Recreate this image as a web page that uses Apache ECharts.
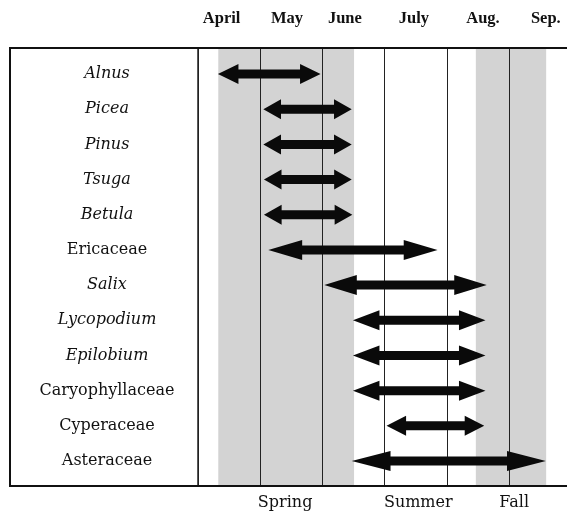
<!DOCTYPE html>
<html>
<head>
<meta charset="utf-8">
<script src="https://cdn.jsdelivr.net/npm/echarts@6/dist/echarts.min.js"></script>
<style>html,body{margin:0;padding:0;background:#fff;}#c{width:567px;height:517px;}</style>
</head>
<body>
<div id="c"></div>
<script>
// Data (x in months since 1 April)
const taxa = ['Alnus','Picea','Pinus','Tsuga','Betula','Ericaceae','Salix','Lycopodium','Epilobium','Caryophyllaceae','Cyperaceae','Asteraceae'];
const italicTaxa = ['Alnus','Picea','Pinus','Tsuga','Betula','Salix','Lycopodium','Epilobium'];
const startMonth = [0.32, 1.05, 1.05, 1.06, 1.06, 1.13, 2.03, 2.49, 2.49, 2.49, 3.03, 2.47];
const endMonth   = [1.97, 2.47, 2.47, 2.47, 2.48, 3.85, 4.64, 4.62, 4.62, 4.62, 4.60, 5.59];
const months = ['April','May','June','July','Aug.','Sep.'];
const monthLabelPos = [0.38, 1.43, 2.36, 3.47, 4.58, 5.59];
const seasons = ['Spring','Summer','Fall'];
const seasonLabelPos = [1.40, 3.54, 5.08];
const springBand = [0.326, 2.508];
const fallBand = [4.465, 5.595];

const serif = 'DejaVu Serif';
const chart = echarts.init(document.getElementById('c'));
const arrowData = taxa.map((t, i) => [i, startMonth[i], endMonth[i]]);

chart.setOption({
  animation: false,
  backgroundColor: '#fff',
  grid: { left: 198, right: 0, top: 48, bottom: 31 },
  xAxis: [
    { type: 'value', min: 0, max: 5.93, interval: 1, position: 'bottom', z: 2,
      axisLine: { show: false }, axisTick: { show: false }, axisLabel: { show: false },
      splitLine: { show: true, lineStyle: { color: '#222', width: 1 } } },
    { type: 'value', min: 0, max: 5.93, position: 'top',
      axisLine: { show: false }, axisTick: { show: false }, splitLine: { show: false },
      axisLabel: { customValues: monthLabelPos, margin: 21,
        formatter: v => months[monthLabelPos.indexOf(v)] || '',
        fontFamily: 'Liberation Serif', fontWeight: 'bold', fontSize: 16.5, color: '#111' } },
    { type: 'value', min: 0, max: 5.93, position: 'bottom',
      axisLine: { show: false }, axisTick: { show: false }, splitLine: { show: false },
      axisLabel: { customValues: seasonLabelPos, margin: 9,
        formatter: v => seasons[seasonLabelPos.indexOf(v)] || '',
        fontFamily: serif, fontSize: 16, color: '#111' } }
  ],
  yAxis: {
    type: 'value', inverse: true, min: -0.74, max: 11.71,
    axisLine: { show: true, lineStyle: { color: '#222', width: 1.5 } },
    axisTick: { show: false }, splitLine: { show: false },
    axisLabel: {
      customValues: taxa.map((t, i) => i), margin: 91, align: 'center',
      formatter: v => { const n = taxa[v]; return italicTaxa.indexOf(n) >= 0 ? '{i|' + n + '}' : '{n|' + n + '}'; },
      rich: {
        i: { fontFamily: serif, fontStyle: 'italic', fontSize: 16, color: '#111' },
        n: { fontFamily: serif, fontSize: 16, color: '#111' }
      }
    }
  },
  series: [
    { type: 'scatter', data: [], z: 1, silent: true,
      markArea: { silent: true, itemStyle: { color: '#d3d3d3' },
        data: [ [{ xAxis: springBand[0] }, { xAxis: springBand[1] }],
                [{ xAxis: fallBand[0] }, { xAxis: fallBand[1] }] ] } },
    { type: 'custom', z: 3, data: arrowData, encode: { x: [1, 2], y: 0 },
      renderItem: (params, api) => {
        const row = api.value(0);
        const a = api.coord([api.value(1), row]);
        const b = api.coord([api.value(2), row]);
        const y = a[1], x1 = a[0], x2 = b[0];
        const head = (x2 - x1) * 0.2, hh = 10, sh = 4.5;
        return { type: 'polygon', shape: { points: [
          [x1, y], [x1 + head, y - hh], [x1 + head, y - sh], [x2 - head, y - sh], [x2 - head, y - hh],
          [x2, y], [x2 - head, y + hh], [x2 - head, y + sh], [x1 + head, y + sh], [x1 + head, y + hh]
        ] }, style: { fill: '#0a0a0a' } };
      } }
  ],
  graphic: [
    { type: 'rect', z: 100, silent: true, shape: { x: 10, y: 48, width: 570, height: 438 },
      style: { fill: 'none', stroke: '#111', lineWidth: 2 } }
  ]
});
</script>
</body>
</html>
